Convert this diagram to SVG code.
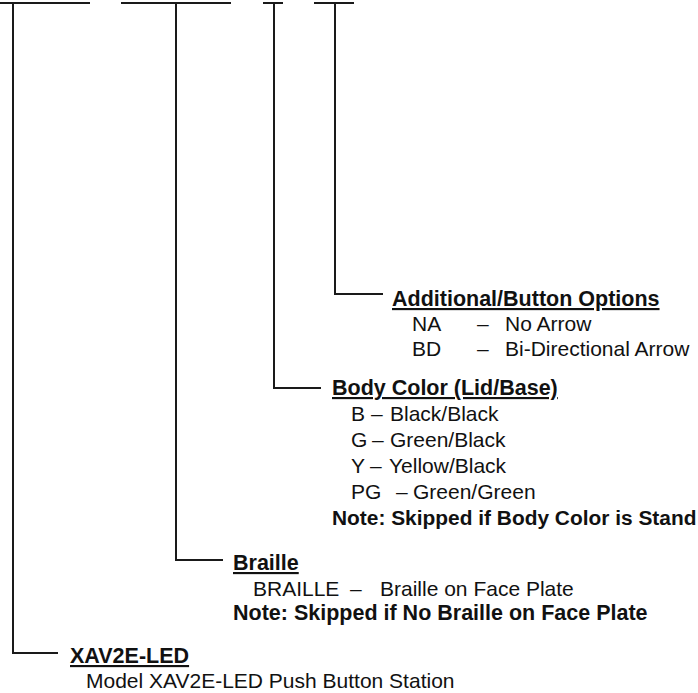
<svg xmlns="http://www.w3.org/2000/svg" width="698" height="693" viewBox="0 0 698 693">
<style>
.ln{stroke:#1a1a1a;stroke-width:2;fill:none;stroke-linecap:square}
text{font-family:"Liberation Sans",Arial,sans-serif;font-size:21px;fill:#111}
.hd{font-weight:bold;font-size:21.5px;text-decoration:underline}
.nt{font-weight:bold;font-size:21.5px}
.nt2{font-weight:bold;font-size:20.9px}
</style>
<rect width="698" height="693" fill="#ffffff"/>
<g id="connectors">
<path class="ln" d="M0,3 H89 M13,3 V653 H57"/>
<path class="ln" d="M122,3 H230 M176,3 V560 H222"/>
<path class="ln" d="M264,3 H282 M274,3 V388 H320"/>
<path class="ln" d="M315,3 H353 M335,3 V294 H382"/>
</g>
<g id="node-options">
<text class="hd" x="392" y="306">Additional/Button Options</text>
<text y="331"><tspan x="412">NA</tspan><tspan x="477">–</tspan><tspan x="505">No Arrow</tspan></text>
<text y="356"><tspan x="412">BD</tspan><tspan x="477">–</tspan><tspan x="505">Bi-Directional Arrow</tspan></text>
</g>
<g id="node-body-color">
<text class="hd" x="332" y="395">Body Color (Lid/Base)</text>
<text y="421"><tspan x="351">B</tspan><tspan x="371">–</tspan><tspan x="390">Black/Black</tspan></text>
<text y="447"><tspan x="351">G</tspan><tspan x="372">–</tspan><tspan x="390">Green/Black</tspan></text>
<text y="473"><tspan x="351">Y</tspan><tspan x="370">–</tspan><tspan x="389">Yellow/Black</tspan></text>
<text y="499"><tspan x="351">PG</tspan><tspan x="396">–</tspan><tspan x="413">Green/Green</tspan></text>
<text class="nt2" x="332" y="525">Note: Skipped if Body Color is Stand</text>
</g>
<g id="node-braille">
<text class="hd" x="233" y="570">Braille</text>
<text y="596"><tspan x="253">BRAILLE</tspan><tspan x="350">–</tspan><tspan x="380">Braille on Face Plate</tspan></text>
<text class="nt" x="233" y="620">Note: Skipped if No Braille on Face Plate</text>
</g>
<g id="node-model">
<text class="hd" x="70" y="663">XAV2E-LED</text>
<text x="86" y="688">Model XAV2E-LED Push Button Station</text>
</g>
</svg>
